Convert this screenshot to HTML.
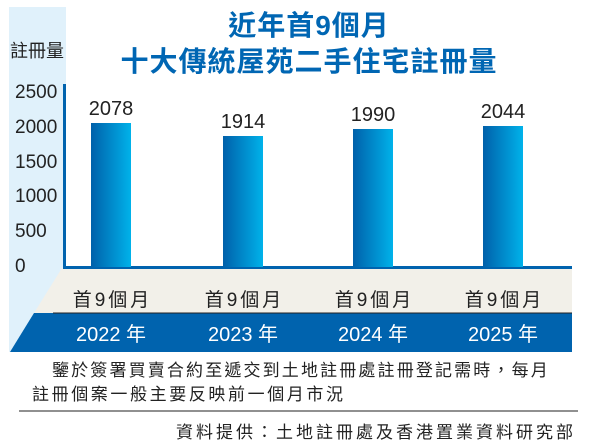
<!DOCTYPE html>
<html><head><meta charset="utf-8"><style>
body{margin:0;background:#fff;width:605px;height:444px;overflow:hidden;position:relative;font-family:"Liberation Sans","Noto Sans CJK TC",sans-serif;}
.a{position:absolute;white-space:nowrap;}
.t{color:#0066b3;font-weight:bold;font-size:28px;left:0;width:618px;text-align:center;letter-spacing:1px}
.yl{left:15px;font-size:19px;color:#222;}
.v{font-size:20px;color:#222;width:80px;text-align:center}
.bar{position:absolute;width:40px;background:linear-gradient(to right,#0060aa,#00b2ea);}
.m{font-size:19px;color:#222;width:120px;text-align:center;top:285px;letter-spacing:3px;text-indent:3px}
.yr{font-size:20px;color:#fff;width:120px;text-align:center;top:318px}
</style></head><body>
<svg class="a" style="left:0;top:0" width="605" height="444">
<rect x="9" y="7" width="57" height="345" fill="#e0f1fb"/>
<polygon points="62,268 572,268 572,313 34,313" fill="#f2f0e9"/>
<polygon points="34,313 572,313 572,352 10,352" fill="#0063ae"/>
<line x1="53" y1="313" x2="572" y2="313" stroke="#222" stroke-width="1"/>
<rect x="63" y="84" width="3" height="185" fill="#0063ae"/>
<rect x="63" y="266" width="509" height="3" fill="#0063ae"/>
<line x1="19" y1="411" x2="578" y2="411" stroke="#222" stroke-width="1"/>
</svg>
<div class="a t" style="top:4px">近年首9個月</div>
<div class="a t" style="top:40px">十大傳統屋苑二手住宅註冊量</div>
<div class="a" style="left:10px;top:37px;font-size:18px;color:#222">註冊量</div>
<div class="a yl" style="top:82px">2500</div>
<div class="a yl" style="top:117px">2000</div>
<div class="a yl" style="top:152px">1500</div>
<div class="a yl" style="top:186px">1000</div>
<div class="a yl" style="top:221px">500</div>
<div class="a yl" style="top:256px">0</div>
<div class="bar" style="left:91px;top:123px;height:144px"></div>
<div class="bar" style="left:223px;top:136px;height:131px"></div>
<div class="bar" style="left:353px;top:129px;height:138px"></div>
<div class="bar" style="left:483px;top:126px;height:141px"></div>
<div class="a v" style="left:71px;top:98px">2078</div>
<div class="a v" style="left:203px;top:111px">1914</div>
<div class="a v" style="left:333px;top:104px">1990</div>
<div class="a v" style="left:463px;top:101px">2044</div>
<div class="a m" style="left:51px">首9個月</div>
<div class="a m" style="left:183px">首9個月</div>
<div class="a m" style="left:313px">首9個月</div>
<div class="a m" style="left:443px">首9個月</div>
<div class="a yr" style="left:51px">2022 年</div>
<div class="a yr" style="left:183px">2023 年</div>
<div class="a yr" style="left:313px">2024 年</div>
<div class="a yr" style="left:443px">2025 年</div>
<div class="a" style="left:52px;top:356px;font-size:17px;color:#222;letter-spacing:2.15px">鑒於簽署買賣合約至遞交到土地註冊處註冊登記需時，每月</div>
<div class="a" style="left:32px;top:380px;font-size:17px;color:#222;letter-spacing:2.6px">註冊個案一般主要反映前一個月市況</div>
<div class="a" style="right:29px;top:418px;font-size:17px;color:#222;letter-spacing:3px">資料提供：土地註冊處及香港置業資料研究部</div>
</body></html>
